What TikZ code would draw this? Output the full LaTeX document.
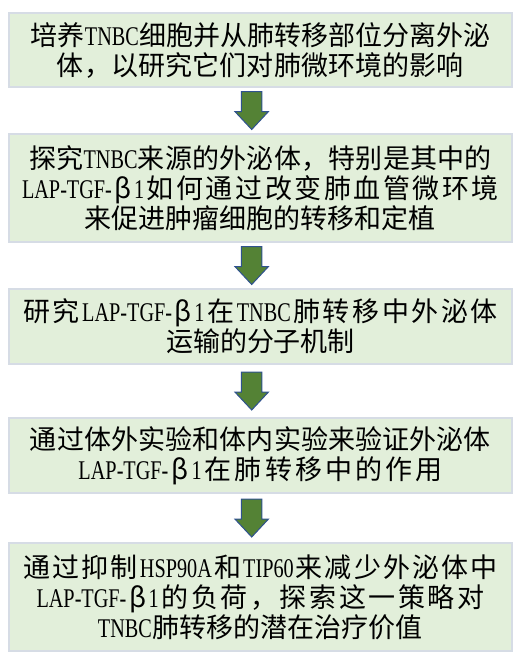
\documentclass[tikz,border=0pt]{standalone}
\usepackage{fontspec}
\setmainfont{Noto Sans CJK SC}
\newfontfamily\latfont[FakeStretch=0.75]{Liberation Serif}
\usetikzlibrary{positioning, calc}
\definecolor{boxfill}{HTML}{E2EFDA}
\definecolor{boxline}{HTML}{D6DCE5}
\definecolor{arrfill}{HTML}{548235}
\definecolor{arrline}{HTML}{2F528F}
\newcommand\lat[1]{{\latfont #1}}
\newcommand\sgap{\hskip 0pt plus 1fil minus 2pt\relax}
\ExplSyntaxOn
\NewDocumentCommand\spreadline{mm}{
  \hbox_to_wd:nn {#1} { \tl_map_inline:nn {#2} { ##1 \sgap } \unskip }
}
\ExplSyntaxOff
\tikzset{
  stepbox/.style={draw=boxline, line width=1.5pt, fill=boxfill, minimum width=377.25pt,
    minimum height=#1, inner sep=0pt, align=center, font=\fontsize{20.25pt}{22.5pt}\selectfont},
  stepbox/.default=56.25pt,
  downarr/.style={draw=arrline, fill=arrfill, line width=0.75pt, line join=miter,
    to path={let \p3=($(\tikztostart)!.5!(\tikztotarget)$) in
      (\x3-7.7pt,\y3+14.25pt) -- (\x3+7.7pt,\y3+14.25pt) -- (\x3+7.7pt,\y3-0.75pt)
      -- (\x3+12.6pt,\y3-0.75pt) -- (\x3,\y3-14.25pt) -- (\x3-12.6pt,\y3-0.75pt)
      -- (\x3-7.7pt,\y3-0.75pt) -- cycle}},
}

\begin{document}
\begin{tikzpicture}[node distance=33.75pt]
  \useasboundingbox (0,0) rectangle (389.25pt,-493.5pt);
  \node[stepbox=55.5pt] (b1) at (195.375pt,-37.5pt)
    {\spreadline{344.25pt}{培养{\lat{TNBC}}细胞并从肺转移部位分离外泌}\\
     \spreadline{305.25pt}{体，以研究它们对肺微环境的影响}};
  \node[stepbox=81pt, below=of b1] (b2)
    {\spreadline{347.25pt}{探究{\lat{TNBC}}来源的外泌体，特别是其中的}\\
     \spreadline{357.75pt}{{\lat{LAP-TGF-}}β{\lat{1}}如何通过改变肺血管微环境}\\
     \spreadline{263.25pt}{来促进肿瘤细胞的转移和定植}};
  \node[stepbox, below=of b2] (b3)
    {\spreadline{356.25pt}{研究{\lat{LAP-TGF-}}β{\lat{1}}在{\lat{TNBC}}肺转移中外泌体}\\
     \spreadline{141pt}{运输的分子机制}};
  \node[stepbox, below=39pt of b3] (b4)
    {\spreadline{345.75pt}{通过体外实验和体内实验来验证外泌体}\\
     \spreadline{273pt}{{\lat{LAP-TGF-}}β{\lat{1}}在肺转移中的作用}};
  \node[stepbox=81pt, below=36pt of b4] (b5)
    {\spreadline{355.5pt}{通过抑制{\lat{HSP90A}}和{\lat{TIP60}}来减少外泌体中}\\
     \spreadline{336pt}{{\lat{LAP-TGF-}}β{\lat{1}}的负荷，探索这一策略对}\\
     \spreadline{243.75pt}{{\lat{TNBC}}肺转移的潜在治疗价值}};
  % block arrows between the steps
  \foreach \a/\b in {b1/b2, b2/b3, b3/b4, b4/b5}
    \path[downarr] ([xshift=-6.6pt]\a.south) to ([xshift=-6.6pt]\b.north);
\end{tikzpicture}
\end{document}
